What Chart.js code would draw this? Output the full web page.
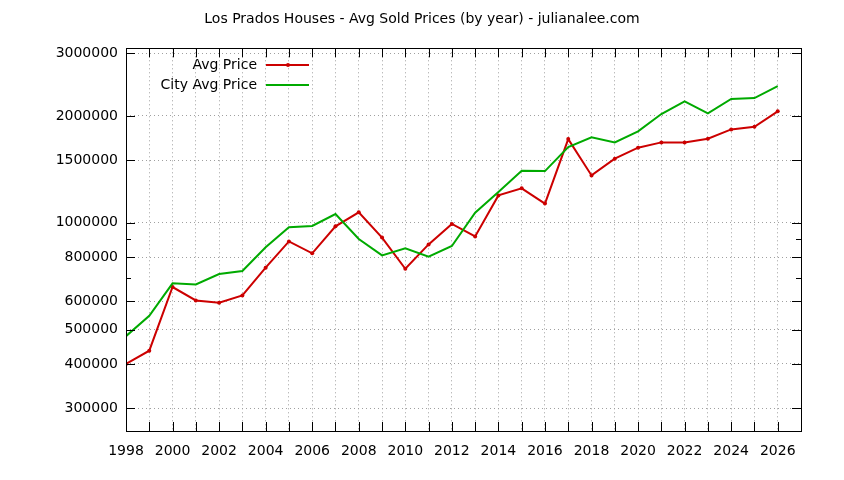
<!DOCTYPE html>
<html>
<head>
<meta charset="utf-8">
<title>Los Prados Houses - Avg Sold Prices</title>
<script src="https://cdn.jsdelivr.net/npm/chart.js@4"></script>
<style>
  html, body { margin: 0; padding: 0; background: #fff; }
</style>
</head>
<body>
<canvas id="priceChart" width="844" height="480"></canvas>
<script>
// data
var years = [1998, 1999, 2000, 2001, 2002, 2003, 2004, 2005, 2006, 2007,
             2008, 2009, 2010, 2011, 2012, 2013, 2014, 2015, 2016, 2017,
             2018, 2019, 2020, 2021, 2022, 2023, 2024, 2025, 2026];
var avgPrice = [400000, 436000, 659000, 604000, 595000, 624000, 747000, 886000, 820000, 977000,
                1070000, 908000, 742000, 869000, 992000, 915000, 1194000, 1250000, 1132000, 1720000,
                1359000, 1515000, 1627000, 1684000, 1684000, 1725000, 1832000, 1864000, 2060000];
var cityAvgPrice = [479000, 547000, 675000, 670000, 717000, 731000, 853000, 971000, 979000, 1058000,
                    900000, 809000, 847000, 802000, 860000, 1067000, 1220000, 1401000, 1398000, 1634000,
                    1740000, 1684000, 1809000, 2024000, 2197000, 2033000, 2231000, 2245000, 2427000];
var yTicks = [300000, 400000, 500000, 600000, 800000, 1000000, 1500000, 2000000, 3000000];
var yMinorTicks = [700000, 900000];

function toPoints(vals) {
  return years.map(function (yr, i) { return { x: yr, y: vals[i] }; });
}

Chart.defaults.font.family = 'DejaVu Sans';
Chart.defaults.font.size = 14;
Chart.defaults.color = '#000';

// gnuplot style frame, inward ticks and key
var gnuplotFrame = {
  id: 'gnuplotFrame',
  afterDraw: function (chart) {
    var ctx = chart.ctx;
    var a = chart.chartArea;
    var xs = chart.scales.x, ys = chart.scales.y;
    ctx.save();
    ctx.strokeStyle = '#000';
    ctx.lineWidth = 1;
    ctx.beginPath();
    years.forEach(function (yr) {
      var px = Math.round(xs.getPixelForValue(yr)) + 0.5;
      ctx.moveTo(px, a.bottom); ctx.lineTo(px, a.bottom - 9);
      ctx.moveTo(px, a.top); ctx.lineTo(px, a.top + 9);
    });
    yTicks.forEach(function (v) {
      var py = Math.round(ys.getPixelForValue(v)) + 0.5;
      ctx.moveTo(a.left, py); ctx.lineTo(a.left + 9, py);
      ctx.moveTo(a.right, py); ctx.lineTo(a.right - 9, py);
    });
    yMinorTicks.forEach(function (v) {
      var py = Math.round(ys.getPixelForValue(v)) + 0.5;
      ctx.moveTo(a.left, py); ctx.lineTo(a.left + 5, py);
      ctx.moveTo(a.right, py); ctx.lineTo(a.right - 5, py);
    });
    ctx.stroke();
    ctx.strokeRect(Math.round(a.left) + 0.5, Math.round(a.top) + 0.5,
                   Math.round(a.right - a.left), Math.round(a.bottom - a.top));

    // key, text on the left, sample on the right
    ctx.font = '14px "DejaVu Sans"';
    ctx.textAlign = 'right';
    ctx.textBaseline = 'middle';
    chart.data.datasets.forEach(function (ds, i) {
      var ky = 65 + i * 20;
      ctx.fillStyle = '#000';
      ctx.fillText(ds.label, 257, ky);
      ctx.strokeStyle = ds.borderColor;
      ctx.lineWidth = 2;
      ctx.beginPath();
      ctx.moveTo(266, ky); ctx.lineTo(309, ky);
      ctx.stroke();
      if (ds.pointRadius > 0) {
        ctx.fillStyle = ds.borderColor;
        ctx.beginPath();
        ctx.arc(288, ky, ds.pointRadius, 0, Math.PI * 2);
        ctx.fill();
      }
    });
    ctx.restore();
  }
};

var ctx = document.getElementById('priceChart').getContext('2d');
var chart = new Chart(ctx, {
  type: 'line',
  data: {
    datasets: [{
      label: 'Avg Price',
      data: toPoints(avgPrice),
      borderColor: '#cc0000',
      backgroundColor: '#cc0000',
      borderWidth: 2,
      pointRadius: 2,
      pointBorderWidth: 0,
      tension: 0,
      order: 1
    }, {
      label: 'City Avg Price',
      data: toPoints(cityAvgPrice),
      borderColor: '#00aa00',
      backgroundColor: '#00aa00',
      borderWidth: 2,
      pointRadius: 0,
      tension: 0,
      order: 0
    }]
  },
  options: {
    responsive: false,
    animation: false,
    layout: { padding: 0 },
    plugins: {
      legend: { display: false },
      tooltip: { enabled: false },
      title: {
        display: true,
        text: 'Los Prados Houses - Avg Sold Prices (by year) - julianalee.com',
        font: { size: 14, weight: 'normal', lineHeight: 1.2 },
        color: '#000',
        padding: { top: 11, bottom: 20.5 }
      }
    },
    scales: {
      x: {
        type: 'linear',
        min: 1998,
        max: 2027,
        afterFit: function (s) { s.height = 49; },
        ticks: {
          stepSize: 1,
          autoSkip: false,
          maxRotation: 0,
          padding: 12,
          callback: function (v) { return (v % 2 === 0 && v <= 2026) ? String(v) : ''; }
        },
        grid: { color: '#a0a0a0', lineWidth: 1, drawTicks: false },
        border: { display: false, dash: [1, 3] }
      },
      y: {
        type: 'logarithmic',
        min: 259000,
        max: 3100000,
        afterFit: function (s) { s.width = 126; },
        afterBuildTicks: function (s) {
          s.ticks = yTicks.map(function (v) { return { value: v }; });
        },
        ticks: {
          autoSkip: false,
          padding: 8,
          callback: function (v) { return String(v); }
        },
        grid: { color: '#a0a0a0', lineWidth: 1, drawTicks: false },
        border: { display: false, dash: [1, 3] }
      },
      // empty right margin, keeps the title centred on the whole canvas
      yRight: {
        type: 'linear',
        position: 'right',
        display: true,
        afterFit: function (s) { s.width = 43; },
        ticks: { display: false },
        grid: { display: false, drawTicks: false },
        border: { display: false }
      }
    }
  },
  plugins: [gnuplotFrame]
});
</script>
</body>
</html>
